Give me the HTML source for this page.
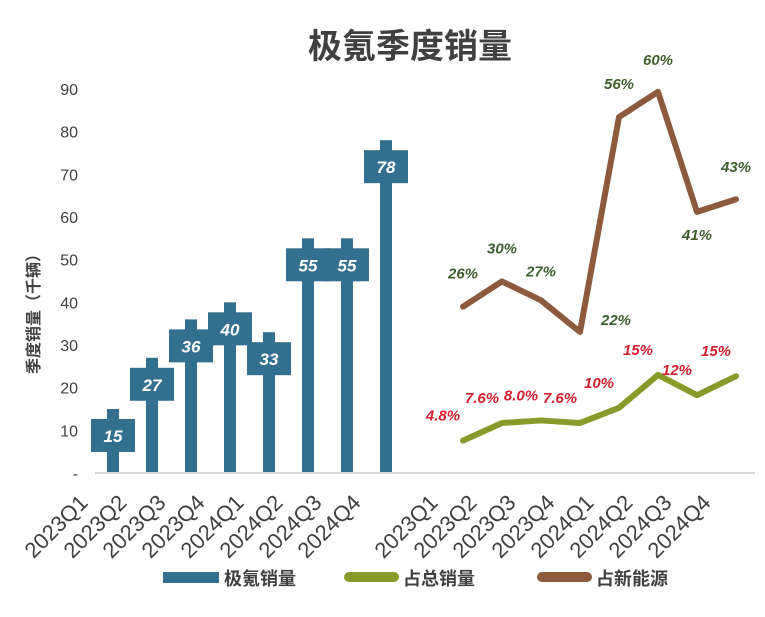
<!DOCTYPE html>
<html><head><meta charset="utf-8"><style>
body{margin:0;background:#fff}
svg text{font-family:"Liberation Sans","Noto Sans CJK SC",sans-serif}
</style></head><body>
<svg id="c" width="765" height="612" xmlns="http://www.w3.org/2000/svg">
<rect x="0" y="0" width="765" height="612" fill="#fff"/>
<text x="410" y="58" text-anchor="middle" font-size="34" font-weight="bold" fill="#404040">极氪季度销量</text>
<text transform="translate(39,310) rotate(-90)" text-anchor="middle" font-size="16" font-weight="bold" fill="#404040">季度销量（千辆）</text>
<g id="yt"></g><g id="bars"></g><g id="lines"></g><g id="xl"></g>
<line x1="95" y1="473" x2="755" y2="473" stroke="#d9d9d9" stroke-width="2"/>
<g>
<rect x="163" y="572" width="56" height="11" fill="#336f8f"/>
<text x="224" y="585" font-size="18" font-weight="bold" fill="#404040">极氪销量</text>
<rect x="344" y="572" width="55" height="10" rx="5" fill="#8a9a2a"/>
<text x="403" y="585" font-size="18" font-weight="bold" fill="#404040">占总销量</text>
<rect x="537" y="572" width="55" height="10" rx="5" fill="#8c5a3c"/>
<text x="596" y="585" font-size="18" font-weight="bold" fill="#404040">占新能源</text>
</g>
</svg>
<script>
const categories=["2023Q1","2023Q2","2023Q3","2023Q4","2024Q1","2024Q2","2024Q3","2024Q4"];
const sales=[15,27,36,40,33,55,55,78];
const totalShare=[4.8,7.6,8.0,7.6,10,15.2,12,15];
const totalLabels=["4.8%","7.6%","8.0%","7.6%","10%","15%","12%","15%"];
const nevShare=[26,30,27,22,56,60,41,43];
const nevLabels=["26%","30%","27%","22%","56%","60%","41%","43%"];
const yTicks=[0,10,20,30,40,50,60,70,80,90];
const NS="http://www.w3.org/2000/svg";
function el(t,a,p){const e=document.createElementNS(NS,t);for(const k in a)e.setAttribute(k,a[k]);p.appendChild(e);return e;}
const yS=v=>473-v*4.267;
const yP=v=>471-v*6.32;
const xB=i=>113+i*39;
const xL=i=>463+i*39;
const yt=document.getElementById('yt');
yTicks.forEach(v=>{const t=el('text',{x:78,y:yS(v)+6,'text-anchor':'end','font-size':16,fill:'#404040'},yt);


t.textContent=v===0?'-':v;});
const bars=document.getElementById('bars');
sales.forEach((v,i)=>{const x=xB(i),top=yS(v);
const r=el('rect',{x:x-6,y:top,width:12,height:473-top,fill:'#336f8f'},bars);


const b=el('rect',{x:x-22,y:top+10,width:44,height:33,fill:'#336f8f'},bars);


const t=el('text',{x:x,y:top+33,'text-anchor':'middle','font-size':17,'font-weight':'bold','font-style':'italic',fill:'#fff'},bars);


t.textContent=v;});
const lines=document.getElementById('lines');
function line(vals,col,name){const p=el('polyline',{points:vals.map((v,i)=>xL(i)+','+yP(v)).join(' '),fill:'none',stroke:col,'stroke-width':6,'stroke-linejoin':'round','stroke-linecap':'round'},lines);

}
line(totalShare,'#8a9a2a','line-total-share');
line(nevShare,'#8c5a3c','line-nev-share');
const nevOff=[[0,-28],[0,-28],[0,-24],[36,-7],[0,-28],[0,-27],[0,28],[0,-27]];
nevShare.forEach((v,i)=>{const t=el('text',{x:xL(i)+nevOff[i][0],y:yP(v)+nevOff[i][1],'text-anchor':'middle','font-size':15,'font-weight':'bold','font-style':'italic',fill:'#3e5f2e'},lines);


t.textContent=nevLabels[i];});
totalShare.forEach((v,i)=>{const t=el('text',{x:xL(i)-20,y:yP(v)-20,'text-anchor':'middle','font-size':15,'font-weight':'bold','font-style':'italic',fill:'#d41f2f'},lines);


t.textContent=totalLabels[i];});
const xl=document.getElementById('xl');
categories.forEach((c,i)=>{[xB(i),xL(i)].forEach(x=>{const t=el('text',{transform:'translate('+(x-24)+',504) rotate(-45)','text-anchor':'end','font-size':22,fill:'#404040'},xl);


t.textContent=c;});});
</script>
</body></html>
